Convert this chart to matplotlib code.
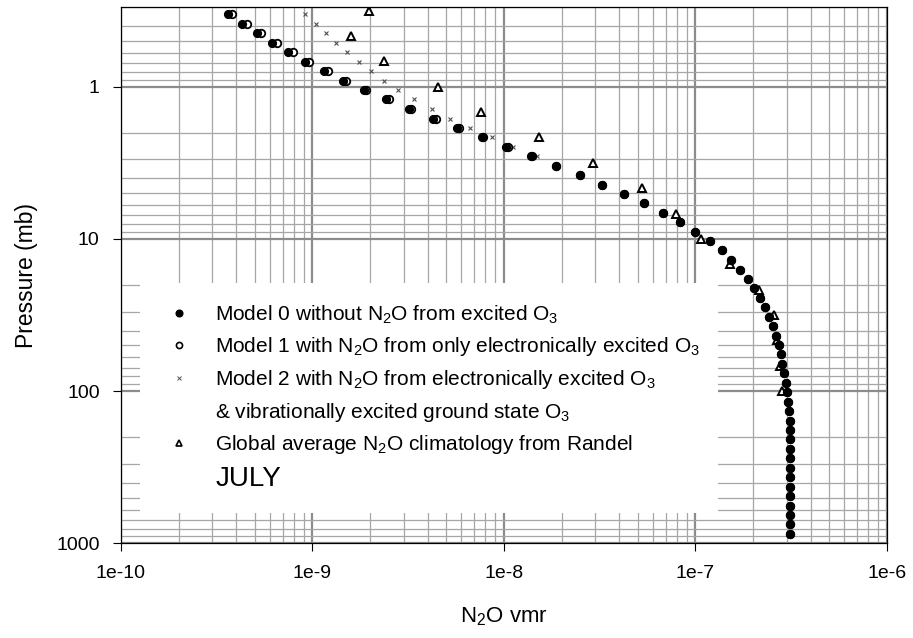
import matplotlib
matplotlib.use("Agg")
import numpy as np
import matplotlib.pyplot as plt
from matplotlib.lines import Line2D
from matplotlib.patches import Rectangle
from matplotlib.ticker import LogLocator, NullFormatter

plt.rcParams['font.family'] = ['Liberation Sans', 'DejaVu Sans']
plt.rcParams['mathtext.default'] = 'regular'

# model levels (mb), 1 km spacing from the surface up
pressure = [866.9, 751.5, 651.4, 564.7, 489.5, 424.4, 367.9, 318.9, 276.4, 239.6,
            207.7, 180.1, 156.1, 135.3, 117.3, 101.7, 88.2, 76.4, 66.3, 57.4,
            49.8, 43.2, 37.4, 32.4, 28.1, 24.4, 21.1, 18.3, 15.9, 13.8,
            11.9, 10.3, 8.97, 7.78, 6.74, 5.84, 5.07, 4.39, 3.81, 3.30,
            2.86, 2.48, 2.15, 1.86, 1.62, 1.40, 1.21, 1.05, 0.912, 0.791,
            0.685, 0.594, 0.515, 0.446, 0.387, 0.335]

# Model 0: no N2O source from excited O3
model0 = [3.13e-7, 3.13e-7, 3.13e-7, 3.13e-7, 3.13e-7, 3.12e-7, 3.12e-7, 3.12e-7, 3.12e-7, 3.11e-7,
          3.11e-7, 3.10e-7, 3.10e-7, 3.08e-7, 3.05e-7, 3.02e-7, 2.96e-7, 2.91e-7, 2.84e-7, 2.78e-7,
          2.72e-7, 2.64e-7, 2.53e-7, 2.41e-7, 2.30e-7, 2.17e-7, 2.02e-7, 1.88e-7, 1.71e-7, 1.54e-7,
          1.37e-7, 1.19e-7, 1.00e-7, 8.34e-8, 6.80e-8, 5.41e-8, 4.22e-8, 3.24e-8, 2.48e-8, 1.86e-8,
          1.38e-8, 1.03e-8, 7.64e-9, 5.68e-9, 4.28e-9, 3.19e-9, 2.43e-9, 1.85e-9, 1.44e-9, 1.15e-9,
          9.12e-10, 7.46e-10, 6.13e-10, 5.12e-10, 4.29e-10, 3.61e-10]

# Model 1 and Model 2 only differ from Model 0 in the upper levels
model1_upper = [1.40e-8, 1.05e-8, 7.76e-9, 5.82e-9, 4.40e-9, 3.28e-9, 2.50e-9, 1.91e-9,
                1.50e-9, 1.20e-9, 9.57e-10, 7.87e-10, 6.49e-10, 5.39e-10, 4.53e-10, 3.81e-10]
model2_upper = [1.90e-8, 1.48e-8, 1.12e-8, 8.64e-9, 6.68e-9, 5.25e-9, 4.20e-9, 3.38e-9, 2.81e-9,
                2.35e-9, 2.01e-9, 1.74e-9, 1.52e-9, 1.33e-9, 1.17e-9, 1.04e-9, 9.15e-10]
model1 = model0[:len(model0) - len(model1_upper)] + model1_upper
model2 = model0[:len(model0) - len(model2_upper)] + model2_upper

# Randel global average climatology
randel_p = [100, 68.1, 46.4, 31.6, 21.5, 14.7, 10, 6.81, 4.64, 3.16, 2.15, 1.47, 1.0, 0.681, 0.464, 0.316]
randel_vmr = [2.82e-7, 2.77e-7, 2.67e-7, 2.56e-7, 2.15e-7, 1.52e-7, 1.07e-7, 7.90e-8, 5.24e-8,
              2.92e-8, 1.52e-8, 7.60e-9, 4.52e-9, 2.35e-9, 1.58e-9, 1.97e-9]

xticks = [1e-10, 1e-9, 1e-8, 1e-7, 1e-6]
xticklabels = ['1e-10', '1e-9', '1e-8', '1e-7', '1e-6']
yticks = [1, 10, 100, 1000]
yticklabels = ['1', '10', '100', '1000']

fig = plt.figure(figsize=(9.13, 6.38), dpi=100)
ax = fig.add_axes([0.1325, 0.1484, 0.8390, 0.8411])
ax.set_xscale('log')
ax.set_yscale('log')
ax.set_xlim(1e-10, 1e-6)
ax.set_ylim(1000, 0.298)

ax.set_axisbelow(True)
ax.xaxis.set_minor_locator(LogLocator(base=10, subs=np.arange(2, 10)))
ax.yaxis.set_minor_locator(LogLocator(base=10, subs=np.arange(2, 10)))
ax.xaxis.set_minor_formatter(NullFormatter())
ax.yaxis.set_minor_formatter(NullFormatter())
ax.grid(True, which='major', color='#8c8c8c', linewidth=1.6)
ax.grid(True, which='minor', color='#a6a6a6', linewidth=0.9)

ax.set_xticks(xticks)
ax.set_xticklabels(xticklabels)
ax.set_yticks(yticks)
ax.set_yticklabels(yticklabels)
ax.tick_params(which='major', direction='out', length=5.8, width=0.8, labelsize=14, pad=9.5)
ax.tick_params(which='minor', length=0)
for s in ax.spines.values():
    s.set_linewidth(0.9)

# white panel behind the key, covering the grid
ax.add_patch(Rectangle((0.0248, 0.0565), 0.754, 0.4285, transform=ax.transAxes,
                       facecolor='white', edgecolor='none', zorder=1))

ax.plot(randel_vmr, randel_p, linestyle='none', marker='^', markersize=5.6,
        markerfacecolor='white', markeredgecolor='black', markeredgewidth=1.4, zorder=2)
ax.plot(model2, pressure, linestyle='none', marker='x', markersize=3.2,
        color='#505050', markeredgewidth=0.8, zorder=3)
ax.plot(model1, pressure, linestyle='none', marker='o', markersize=5.4,
        markerfacecolor='white', markeredgecolor='black', markeredgewidth=1.3, zorder=4)
ax.plot(model0, pressure, linestyle='none', marker='o', markersize=5.6,
        color='black', zorder=5)

ax.set_xlabel('N$_2$O vmr', fontsize=16, labelpad=17)
ax.set_ylabel('Pressure (mb)', fontsize=16.5, labelpad=13)

handles = [
    Line2D([], [], linestyle='none', marker='o', color='black', markersize=4.8),
    Line2D([], [], linestyle='none', marker='o', markerfacecolor='white',
           markeredgecolor='black', markeredgewidth=1.2, markersize=4.4),
    Line2D([], [], linestyle='none', marker='x', color='#505050', markersize=3, markeredgewidth=0.7),
    Line2D([], [], linestyle='none'),
    Line2D([], [], linestyle='none', marker='^', markerfacecolor='white',
           markeredgecolor='black', markeredgewidth=1.2, markersize=4.6),
    Line2D([], [], linestyle='none'),
]
labels = [
    'Model 0 without N$_2$O from excited O$_3$',
    'Model 1 with N$_2$O from only electronically excited O$_3$',
    'Model 2 with N$_2$O from electronically excited O$_3$',
    '& vibrationally excited ground state O$_3$',
    'Global average N$_2$O climatology from Randel',
    'JULY',
]
leg = ax.legend(handles, labels, loc='upper left', bbox_to_anchor=(0.062, 0.447),
                frameon=False, fontsize=15, handlelength=1.0, handletextpad=1.25,
                labelspacing=0.46, borderpad=0, borderaxespad=0)
leg.set_zorder(6)
leg.get_texts()[-1].set_fontsize(20)

fig.savefig('out.png', dpi=100)
